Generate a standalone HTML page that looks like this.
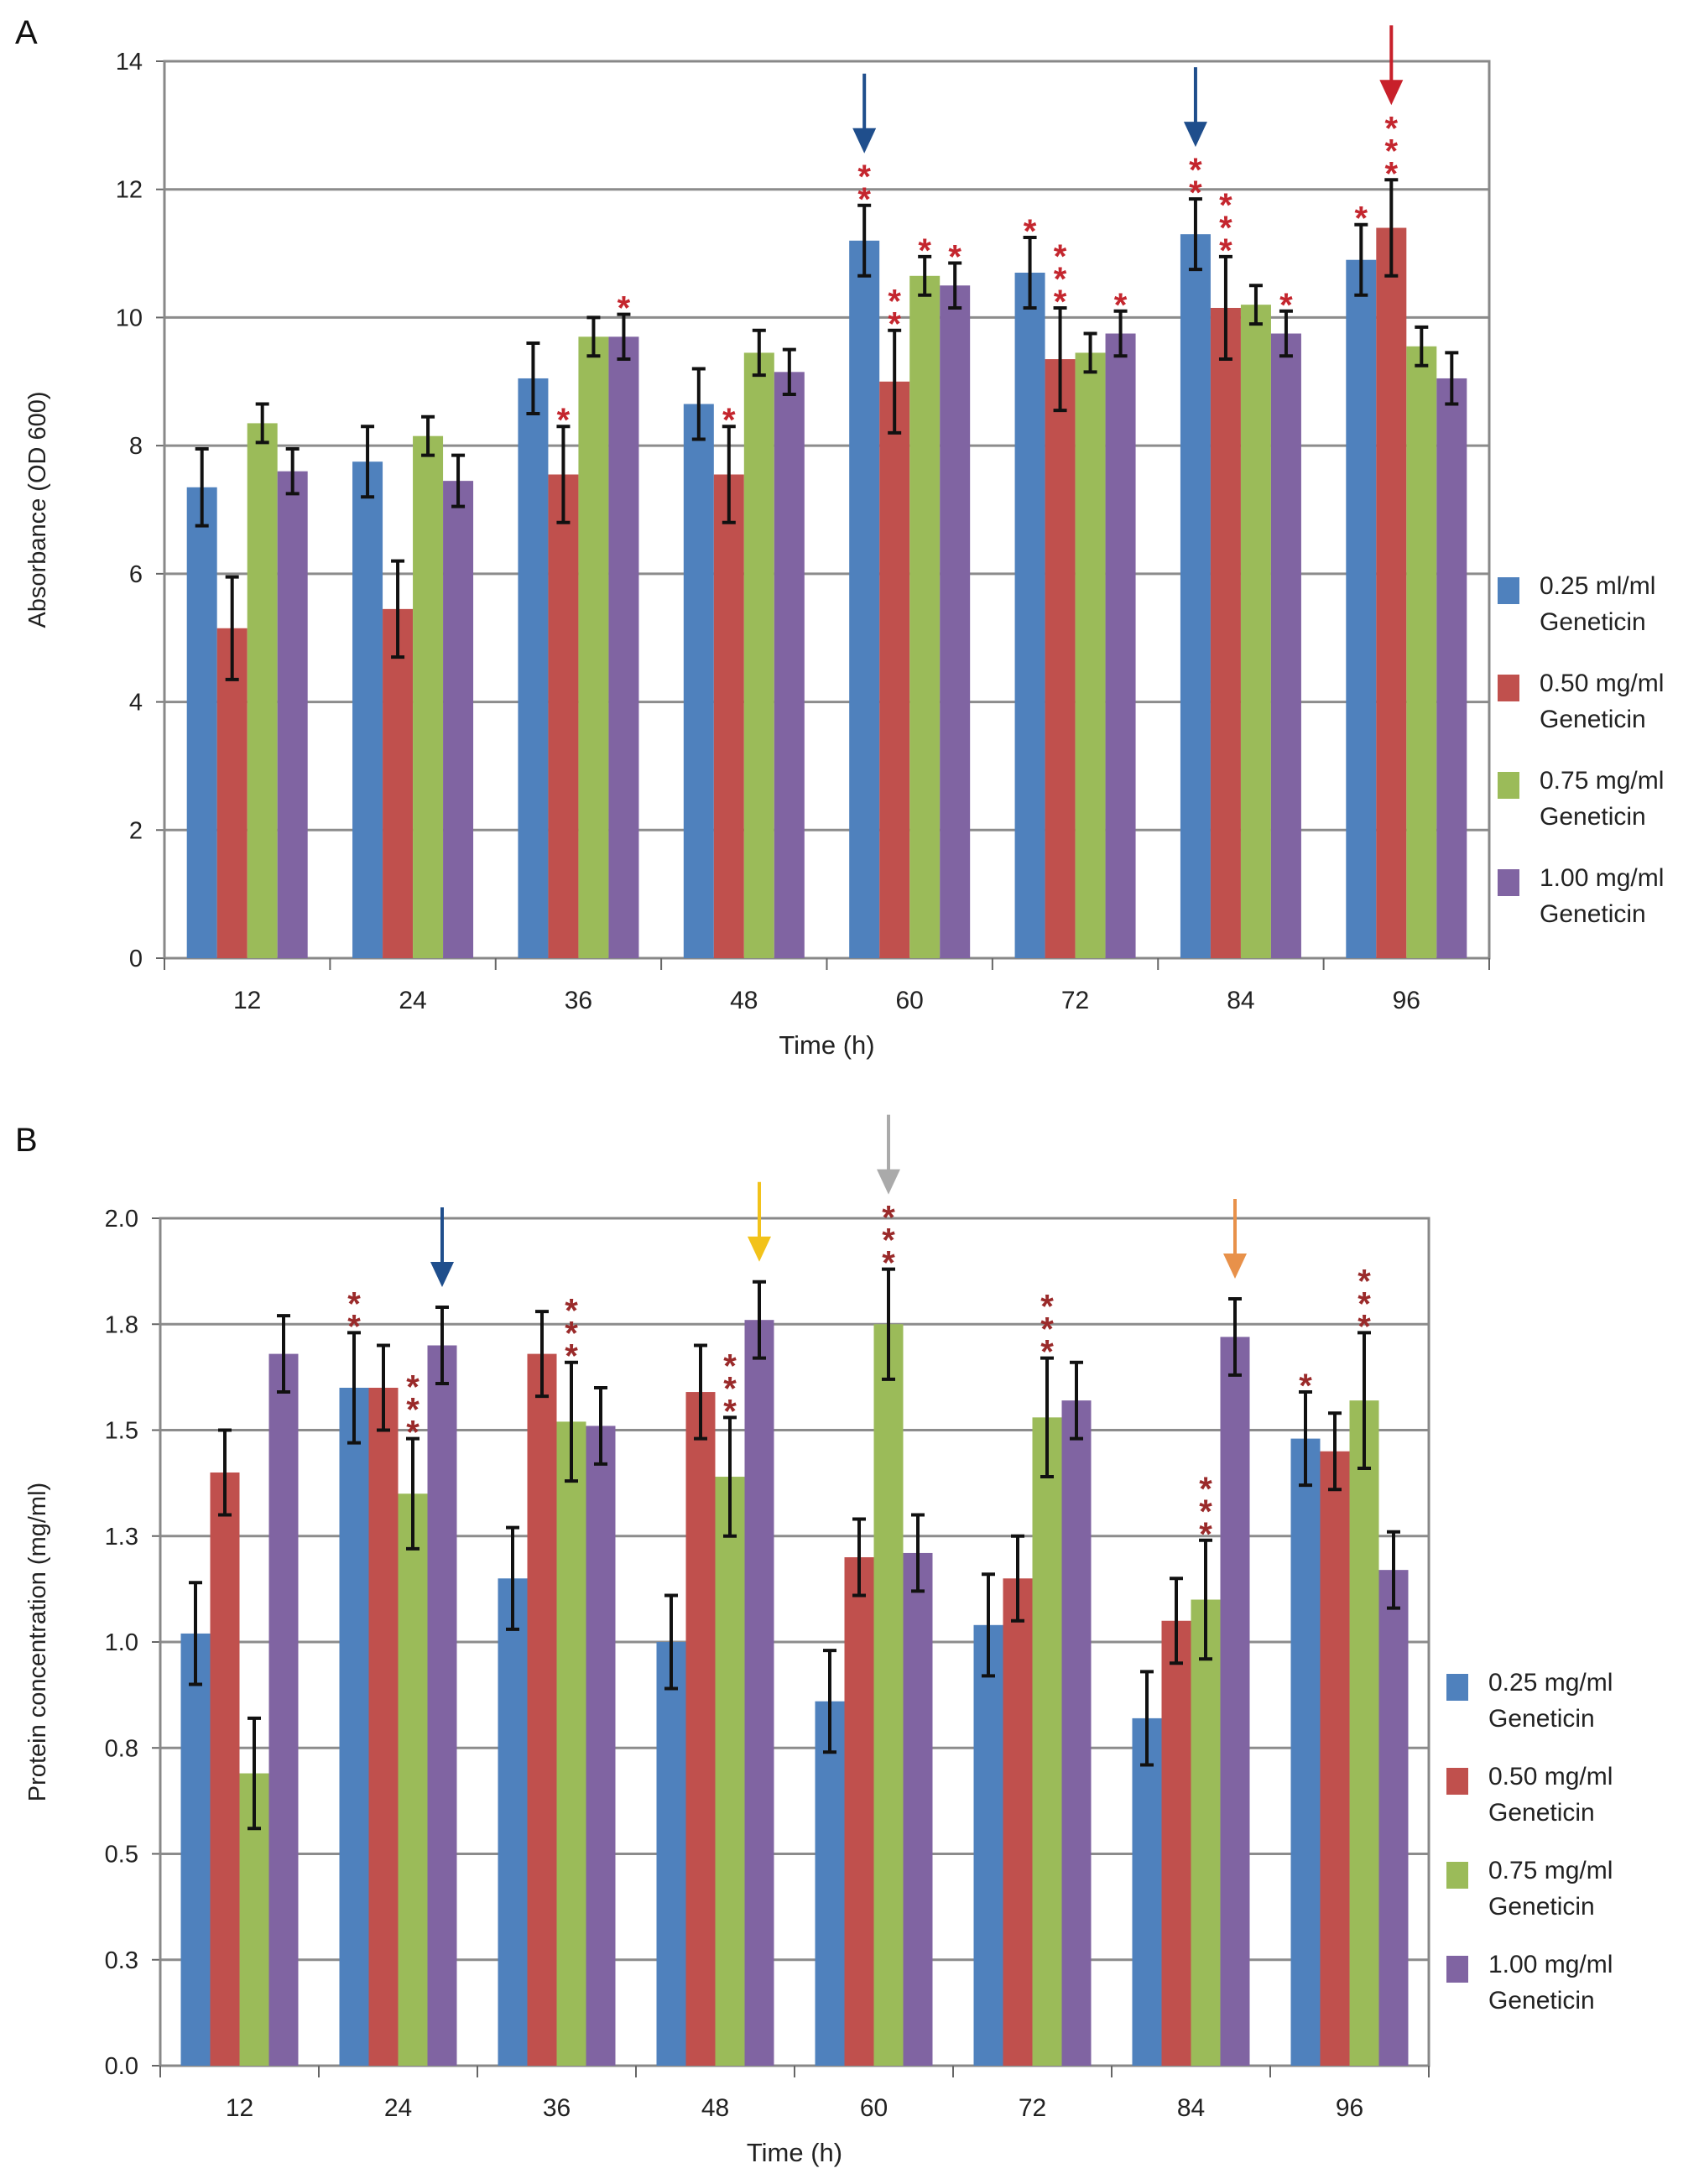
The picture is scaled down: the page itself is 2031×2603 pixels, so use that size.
<!DOCTYPE html>
<html><head><meta charset="utf-8">
<style>
html,body{margin:0;padding:0;background:#fff;}
svg{display:block;font-family:"Liberation Sans",Arial,sans-serif;}
</style></head>
<body>
<svg id="fig" xmlns="http://www.w3.org/2000/svg" width="2031" height="2603" viewBox="0 0 2031 2603">
<rect width="2031" height="2603" fill="#fff"/>
</svg>
<script>
// ---- Data ----
const categories = ["12","24","36","48","60","72","84","96"];
const seriesNames = ["0.25 ml/ml","0.50 mg/ml","0.75 mg/ml","1.00 mg/ml"];
const seriesNamesB = ["0.25 mg/ml","0.50 mg/ml","0.75 mg/ml","1.00 mg/ml"];
const colors = ["#4f81bd","#c0504d","#9bbb59","#8064a2"];
const absBlue   = [7.35,7.75,9.05,8.65,11.2,10.7,11.3,10.9];
const absRed    = [5.15,5.45,7.55,7.55,9.0,9.35,10.15,11.4];
const absGreen  = [8.35,8.15,9.7,9.45,10.65,9.45,10.2,9.55];
const absPurple = [7.6,7.45,9.7,9.15,10.5,9.75,9.75,9.05];
const absErrBlue   = [0.6,0.55,0.55,0.55,0.55,0.55,0.55,0.55];
const absErrRed    = [0.8,0.75,0.75,0.75,0.8,0.8,0.8,0.75];
const absErrGreen  = [0.3,0.3,0.3,0.35,0.3,0.3,0.3,0.3];
const absErrPurple = [0.35,0.4,0.35,0.35,0.35,0.35,0.35,0.4];
const absTicks = [0,2,4,6,8,10,12,14];
const protBlue   = [1.02,1.60,1.15,1.00,0.86,1.04,0.82,1.48];
const protRed    = [1.40,1.60,1.68,1.59,1.20,1.15,1.05,1.45];
const protGreen  = [0.69,1.35,1.52,1.39,1.75,1.53,1.10,1.57];
const protPurple = [1.68,1.70,1.51,1.76,1.21,1.57,1.72,1.17];
const protErrBlue   = [0.12,0.13,0.12,0.11,0.12,0.12,0.11,0.11];
const protErrRed    = [0.10,0.10,0.10,0.11,0.09,0.10,0.10,0.09];
const protErrGreen  = [0.13,0.13,0.14,0.14,0.13,0.14,0.14,0.16];
const protErrPurple = [0.09,0.09,0.09,0.09,0.09,0.09,0.09,0.09];
const protTickVals = [0,0.25,0.5,0.75,1,1.25,1.5,1.75,2];
const protTickLabels = ["0.0","0.3","0.5","0.8","1.0","1.3","1.5","1.8","2.0"];
// stars: [categoryIndex, seriesIndex, count]
const starsA = [[2,1,1],[2,3,1],[3,1,1],[4,0,2],[4,1,2],[4,2,1],[4,3,1],[5,0,1],[5,1,3],[5,3,1],[6,0,2],[6,1,3],[6,3,1],[7,0,1],[7,1,3]];
const starsB = [[1,0,2],[1,2,3],[2,2,3],[3,2,3],[4,2,3],[5,2,3],[6,2,3],[7,0,1],[7,2,3]];
// arrows: [categoryIndex, seriesIndex, color]
const arrowsA = [[4,0,"#1f4e8c"],[6,0,"#1f4e8c"],[7,1,"#c8202a"]];
const arrowsB = [[1,3,"#1f4e8c"],[3,3,"#f2c21a"],[4,2,"#aaaaaa"],[6,3,"#e8914a"]];

const NS="http://www.w3.org/2000/svg";
const svg=document.getElementById('fig');
function el(tag,attrs,parent){const e=document.createElementNS(NS,tag);for(const k in attrs)e.setAttribute(k,attrs[k]);(parent||svg).appendChild(e);return e;}

function drawPanel(p){
  const g=el('g',{});
  
  
  const cw=(p.right-p.left)/categories.length;
  const y=v=>p.bottom-(v/p.ymax)*(p.bottom-p.top);
  const bw=p.bw;
  const bx=(c,s)=>p.left+cw*c+cw/2-2*bw+s*bw;
  const L=el('text',{x:18,y:p.letterY,'font-size':40,fill:'#111'},g);L.textContent=p.letter;
  
  
  p.tickVals.forEach((v,i)=>{
    const ln=el('line',{x1:p.left,x2:p.right,y1:y(v),y2:y(v),stroke:'#8c8c8c','stroke-width':3},g);
    
    
    const t=el('text',{x:p.left-26,y:y(v)+10,'font-size':29,'text-anchor':'end',fill:'#222'},g);
    t.textContent=p.tickLabels[i];
    
    
    el('line',{x1:p.left-10,x2:p.left,y1:y(v),y2:y(v),stroke:'#666','stroke-width':2},g);
  });
  const fr=el('rect',{x:p.left,y:p.top,width:p.right-p.left,height:p.bottom-p.top,fill:'none',stroke:'#888','stroke-width':3},g);
  
  
  p.values.forEach((arr,s)=>{
    arr.forEach((v,c)=>{
      const r=el('rect',{x:bx(c,s),y:y(v),width:bw,height:p.bottom-y(v),fill:colors[s]},g);
      
      
      const e=p.errs[s][c];const cx=bx(c,s)+bw/2;
      const eb=el('path',{d:`M${cx},${y(v+e)}V${y(v-e)}M${cx-8},${y(v+e)}H${cx+8}M${cx-8},${y(v-e)}H${cx+8}`,stroke:'#111','stroke-width':4,fill:'none'},g);
      
      
    });
  });
  for(let i=0;i<=categories.length;i++){
    const x=p.left+cw*i;
    el('line',{x1:x,x2:x,y1:p.bottom,y2:p.bottom+14,stroke:'#666','stroke-width':2},g);
  }
  categories.forEach((c,i)=>{
    const t=el('text',{x:p.left+cw*i+cw/2,y:p.bottom+60,'font-size':30,'text-anchor':'middle',fill:'#222'},g);
    t.textContent=c;
    
    
  });
  const xt=el('text',{x:(p.left+p.right)/2,y:p.bottom+114,'font-size':31,'text-anchor':'middle',fill:'#222'},g);
  xt.textContent='Time (h)';
  
  
  const yc=(p.top+p.bottom)/2;
  const yt=el('text',{x:0,y:0,'font-size':29,'text-anchor':'middle',fill:'#222',transform:`translate(54,${yc}) rotate(-90)`},g);
  yt.textContent=p.ytitle;
  
  
  const starTop={};
  p.stars.forEach(([c,s,n])=>{
    const top=y(p.values[s][c]+p.errs[s][c]);
    const cx=bx(c,s)+bw/2;
    let yy=top-10;
    for(let k=0;k<n;k++){
      const t=el('text',{x:cx,y:yy+16,'font-size':40,'text-anchor':'middle',fill:p.starColor,'font-weight':'bold'},g);
      t.textContent='*';
      
      
      yy-=27;
    }
    starTop[c+'_'+s]=yy+6;
  });
  p.arrows.forEach(([c,s,col])=>{
    const cx=bx(c,s)+bw/2;
    let tip=starTop[c+'_'+s]!==undefined?starTop[c+'_'+s]:y(p.values[s][c]+p.errs[s][c])-20;
    tip-=4;
    const ag=el('g',{},g);
    
    
    el('line',{x1:cx,x2:cx,y1:tip-95,y2:tip-20,stroke:col,'stroke-width':4},ag);
    el('polygon',{points:`${cx-14},${tip-30} ${cx+14},${tip-30} ${cx},${tip}`,fill:col},ag);
  });
  p.legendNames.forEach((nm,i)=>{
    const ly=p.legendY+i*p.legendStep;
    const lg=el('g',{},g);
    
    
    el('rect',{x:p.legendX,y:ly,width:26,height:32,fill:colors[i]},lg);
    const t1=el('text',{x:p.legendX+50,y:ly+20,'font-size':30,fill:'#222'},lg);t1.textContent=nm;
    const t2=el('text',{x:p.legendX+50,y:ly+63,'font-size':30,fill:'#222'},lg);t2.textContent='Geneticin';
  });
}

drawPanel({name:'panel-a-absorbance',letter:'A',letterY:52,left:196,right:1775,top:73,bottom:1142,ymax:14,bw:36,
  values:[absBlue,absRed,absGreen,absPurple],errs:[absErrBlue,absErrRed,absErrGreen,absErrPurple],
  tickVals:absTicks,tickLabels:absTicks.map(String),ytitle:'Absorbance (OD 600)',
  stars:starsA,arrows:arrowsA,starColor:'#c4262e',
  legendNames:seriesNames,legendX:1785,legendY:688,legendStep:116});

drawPanel({name:'panel-b-protein',letter:'B',letterY:1372,left:191,right:1703,top:1452,bottom:2462,ymax:2,bw:35,
  values:[protBlue,protRed,protGreen,protPurple],errs:[protErrBlue,protErrRed,protErrGreen,protErrPurple],
  tickVals:protTickVals,tickLabels:protTickLabels,ytitle:'Protein concentration (mg/ml)',
  stars:starsB,arrows:arrowsB,starColor:'#9a2a2a',
  legendNames:seriesNamesB,legendX:1724,legendY:1995,legendStep:112});
</script>
</body></html>
